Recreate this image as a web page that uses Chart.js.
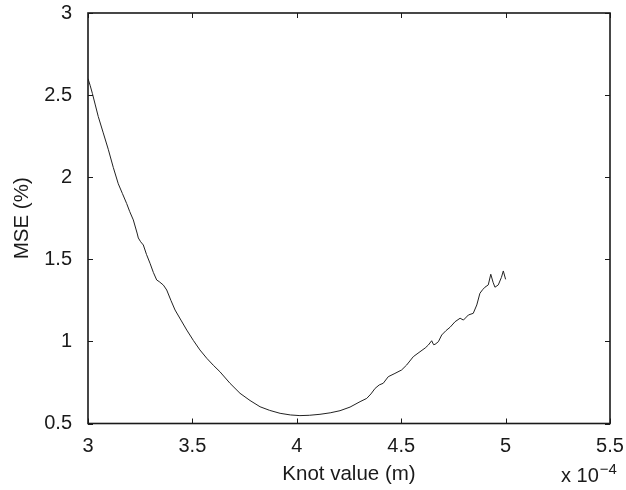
<!DOCTYPE html>
<html>
<head>
<meta charset="utf-8">
<script src="https://cdn.jsdelivr.net/npm/chart.js@4/dist/chart.umd.min.js"></script>
<style>
  html, body { margin: 0; padding: 0; background: #ffffff; }
  #c { display: block; }
</style>
</head>
<body>
<canvas id="c" width="626" height="490"></canvas>
<script>
// Knot value in units of 1e-4 m
const knotValues = [
  3.000, 3.010, 3.021, 3.035, 3.049, 3.073, 3.097, 3.121, 3.145, 3.165,
  3.185, 3.200, 3.217, 3.235, 3.241, 3.252, 3.265, 3.280, 3.297, 3.313,
  3.329, 3.341, 3.361, 3.377, 3.397, 3.417, 3.445, 3.473, 3.505, 3.536,
  3.569, 3.600, 3.632, 3.680, 3.728, 3.776, 3.824, 3.870, 3.920, 3.970,
  4.015, 4.060, 4.111, 4.160, 4.207, 4.255, 4.303, 4.335, 4.355, 4.375,
  4.395, 4.414, 4.438, 4.470, 4.502, 4.526, 4.558, 4.590, 4.615, 4.630,
  4.646, 4.655, 4.662, 4.678, 4.694, 4.714, 4.734, 4.758, 4.782, 4.798,
  4.822, 4.845, 4.862, 4.877, 4.890, 4.901, 4.917, 4.929, 4.940, 4.949,
  4.965, 4.980, 4.989, 5.000
];
// MSE in %
const mseValues = [
  2.600, 2.560, 2.510, 2.440, 2.370, 2.270, 2.170, 2.060, 1.960, 1.900,
  1.840, 1.790, 1.740, 1.660, 1.630, 1.607, 1.587, 1.530, 1.476, 1.420,
  1.374, 1.364, 1.343, 1.313, 1.250, 1.191, 1.130, 1.069, 1.005, 0.948,
  0.897, 0.855, 0.815, 0.745, 0.684, 0.640, 0.602, 0.580, 0.562, 0.552,
  0.548, 0.550, 0.556, 0.565, 0.578, 0.600, 0.633, 0.653, 0.680, 0.714,
  0.735, 0.745, 0.785, 0.805, 0.826, 0.856, 0.907, 0.937, 0.960, 0.978,
  1.004, 0.980, 0.982, 0.998, 1.039, 1.065, 1.086, 1.120, 1.141, 1.130,
  1.161, 1.171, 1.222, 1.293, 1.315, 1.330, 1.344, 1.409, 1.360, 1.330,
  1.344, 1.390, 1.429, 1.378
];
const xTicks = [3, 3.5, 4, 4.5, 5, 5.5];
const yTicks = [0.5, 1, 1.5, 2, 2.5, 3];
const xTitle = 'Knot value (m)';
const yTitle = 'MSE (%)';
const xExponentBase = 'x 10';
const xExponent = '\u22124';

const FONT = '"Liberation Sans", Arial, Helvetica, sans-serif';
const INK = '#1a1a1a';

const points = knotValues.map((x, i) => ({ x: x, y: mseValues[i] }));

function noScalePadding(scale) {
  scale.paddingTop = 0; scale.paddingBottom = 0;
  scale.paddingLeft = 0; scale.paddingRight = 0;
}

const frameAndTicks = {
  id: 'frameAndTicks',
  afterDraw(chart) {
    const { ctx, chartArea: a, scales } = chart;
    const tl = 5;
    ctx.save();
    ctx.strokeStyle = INK;
    ctx.lineWidth = 1;
    ctx.beginPath();
    xTicks.forEach(v => {
      const px = Math.round(scales.x.getPixelForValue(v)) + 0.5;
      ctx.moveTo(px, a.bottom); ctx.lineTo(px, a.bottom - tl);
      ctx.moveTo(px, a.top); ctx.lineTo(px, a.top + tl);
    });
    yTicks.forEach(v => {
      const py = Math.round(scales.y.getPixelForValue(v)) + 0.5;
      ctx.moveTo(a.left, py); ctx.lineTo(a.left + tl, py);
      ctx.moveTo(a.right, py); ctx.lineTo(a.right - tl, py);
    });
    ctx.stroke();
    ctx.lineWidth = 1.6;
    ctx.strokeRect(a.left, a.top, a.right - a.left, a.bottom - a.top);
    // exponent label
    ctx.fillStyle = INK;
    ctx.textBaseline = 'alphabetic';
    ctx.textAlign = 'left';
    ctx.font = '20px ' + FONT;
    ctx.fillText(xExponentBase, 561, 481.5);
    const w = ctx.measureText(xExponentBase).width;
    ctx.font = '15px ' + FONT;
    ctx.fillText(xExponent, 561 + w + 1, 474);
    ctx.restore();
  }
};

new Chart(document.getElementById('c'), {
  type: 'scatter',
  data: {
    datasets: [{
      data: points,
      showLine: true,
      borderColor: '#222222',
      borderWidth: 1,
      pointRadius: 0,
      tension: 0,
      fill: false
    }]
  },
  options: {
    responsive: false,
    animation: false,
    devicePixelRatio: 1,
    layout: { padding: { top: 13, right: 16, bottom: 0, left: 0 } },
    plugins: { legend: { display: false }, tooltip: { enabled: false } },
    scales: {
      x: {
        type: 'linear',
        min: 3, max: 5.5,
        afterBuildTicks(scale) { scale.ticks = xTicks.map(v => ({ value: v })); },
        afterFit(scale) { scale.height = 66.5; noScalePadding(scale); },
        grid: { display: false, drawTicks: false, tickLength: 0 },
        border: { display: false },
        ticks: {
          padding: 11,
          color: INK,
          font: { family: FONT, size: 20 },
          maxRotation: 0,
          autoSkip: false,
          callback: v => String(v)
        },
        title: {
          display: true,
          text: xTitle,
          color: INK,
          font: { family: FONT, size: 20.5 },
          padding: { top: 0, bottom: 3 }
        }
      },
      y: {
        type: 'linear',
        min: 0.5, max: 3,
        afterBuildTicks(scale) { scale.ticks = yTicks.map(v => ({ value: v })); },
        afterFit(scale) { scale.width = 88; noScalePadding(scale); },
        grid: { display: false, drawTicks: false, tickLength: 0 },
        border: { display: false },
        ticks: {
          padding: 16,
          color: INK,
          font: { family: FONT, size: 20 },
          autoSkip: false,
          callback: v => String(v)
        },
        title: {
          display: true,
          text: yTitle,
          color: INK,
          font: { family: FONT, size: 20.5 },
          padding: { top: 10, bottom: 0 }
        }
      }
    }
  },
  plugins: [frameAndTicks]
});
</script>
</body>
</html>
